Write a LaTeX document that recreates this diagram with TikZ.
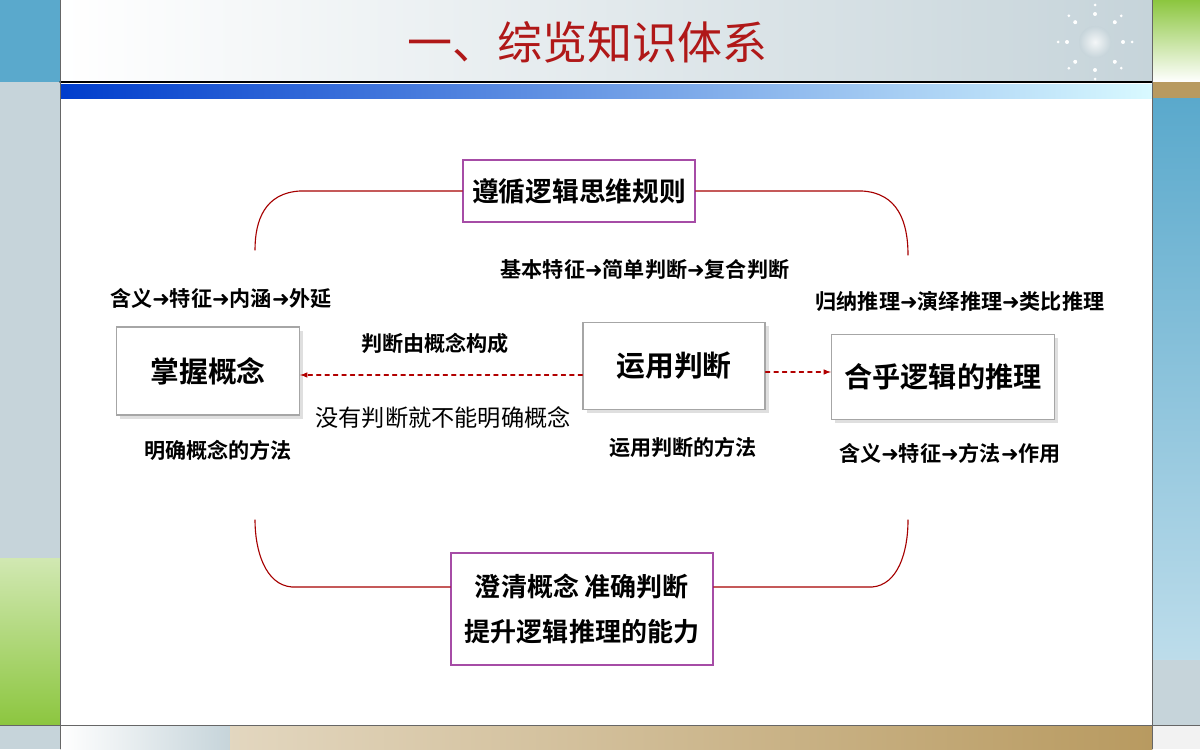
\documentclass[tikz,border=0pt]{standalone}
\usepackage{fontspec}
\setmainfont{Noto Sans CJK SC Bold}
\newfontfamily\cjklight{Noto Sans CJK SC}
\newfontfamily\symfont{DejaVu Sans}
\usetikzlibrary{positioning,shadows}
\newcommand{\nxt}{{\symfont\bfseries ➜}}
\begin{document}
\begin{tikzpicture}
[x=0.025cm,y=-0.025cm,line cap=round,
% Styles
framebox/.style={draw=violet!70,thick,fill=white,inner sep=0pt},
ideabox/.style={draw=gray!70,thick,fill=white,inner sep=0pt,
  drop shadow={opacity=.25}},
note/.style={font=\fontsize{15}{15}\selectfont,inner sep=0pt},
loop line/.style={red!65!black,thick},
link/.style={red!70!black,thick,dashed,-latex}]
% Colors
\definecolor{titlered}{HTML}{B01818}
\definecolor{stripblue}{HTML}{5AA9CC}
\definecolor{stripgrey}{HTML}{C6D4DA}
\definecolor{stripgreen}{HTML}{8CC63F}
\definecolor{striptan}{HTML}{B89A60}
% The frame
\useasboundingbox (0,0) rectangle (1200,749);
\fill[white] (0,0) rectangle (1200,749);
\shade[left color=white,right color=stripgrey] (60,0) rectangle (1152,82);
\fill[stripblue] (0,0) rectangle (60,82);
\fill[stripgrey] (0,82) rectangle (60,558);
\shade[top color=stripgreen!40,bottom color=stripgreen] (0,558) rectangle (60,725);
\fill[stripgrey] (0,725) rectangle (60,749);
\shade[top color=stripgreen,bottom color=white] (1152,0) rectangle (1200,82);
\fill[striptan] (1152,82) rectangle (1200,98);
\shade[top color=stripblue,bottom color=stripblue!40] (1152,98) rectangle (1200,660);
\fill[stripgrey] (1152,660) rectangle (1200,725);
\fill[gray!10] (1152,725) rectangle (1200,749);
\shade[left color=blue!70!cyan!80!black,right color=blue!15!cyan!15] (60,84) rectangle (1152,98);
\draw[thick] (60,82) -- (1152,82);
\shade[left color=white,right color=stripgrey] (60,726) rectangle (230,749);
\shade[left color=striptan!40,right color=striptan] (230,726) rectangle (1152,749);
\draw[gray!80!black] (0,725) -- (1200,725) (60,0) -- (60,749) (1152,0) -- (1152,749);
\shade[inner color=white,outer color=stripgrey,opacity=.8] (1095,42) circle [radius=16];
\foreach \a in {0,45,...,315}
  \fill[white] (1095,42) ++(\a:28) circle [radius=2] ++(\a:9) circle [radius=1.5];
\node[titlered,font=\cjklight\fontsize{32}{32}\selectfont] (title) at (587,42) {一、综览知识体系};
% The graphic
\node[framebox,minimum width=5.8cm,minimum height=1.55cm] (rule) at (579,191)
  {\fontsize{19}{19}\selectfont 遵循逻辑思维规则};
\node[framebox,minimum width=6.55cm,minimum height=2.8cm,align=center,
  font=\fontsize{18.5}{20}\selectfont] (aim) at (582,609)
  {澄清概念 准确判断\\[12pt] 提升逻辑推理的能力};
\node[ideabox,minimum width=4.575cm,minimum height=2.2cm] (concept) at (208,371)
  {\fontsize{20.5}{20}\selectfont 掌握概念};
\node[ideabox,minimum width=4.55cm,minimum height=2.175cm] (judge) at (674,366)
  {\fontsize{20.5}{20}\selectfont 运用判断};
\node[ideabox,minimum width=5.575cm,minimum height=2.125cm] (reason) at (943,377)
  {\fontsize{20}{20}\selectfont 合乎逻辑的推理};
\draw[loop line] (rule.west) -- (300,191) .. controls (265,193) and (255,220) .. (255,250);
\draw[loop line] (rule.east) -- (862,191) .. controls (898,193) and (908,222) .. (908,255);
\draw[loop line] (aim.west |- 0,587) -- (292,587) .. controls (265,585) and (255,550) .. (255,520);
\draw[loop line] (aim.east |- 0,587) -- (872,587) .. controls (898,585) and (908,552) .. (908,520);
\draw[link] (judge.west |- 0,375) -- (concept.east |- 0,375);
\draw[link] (judge.east |- 0,372) -- (reason.west |- 0,372);
\node[note] (c top) at (221,298) {含义\nxt 特征\nxt 内涵\nxt 外延};
\node[note] (j top) at (645,270) {基本特征\nxt 简单判断\nxt 复合判断};
\node[note] (r top) at (960,302) {归纳推理\nxt 演绎推理\nxt 类比推理};
\node[note] (part) at (435,343) {判断由概念构成};
\node[note,font=\cjklight\fontsize{16.5}{16}\selectfont] (need) at (443,418) {没有判断就不能明确概念};
\node[note] (c way) at (218,450) {明确概念的方法};
\node[note] (j way) at (683,447) {运用判断的方法};
\node[note] (r way) at (950,453) {含义\nxt 特征\nxt 方法\nxt 作用};
\end{tikzpicture}
\end{document}
